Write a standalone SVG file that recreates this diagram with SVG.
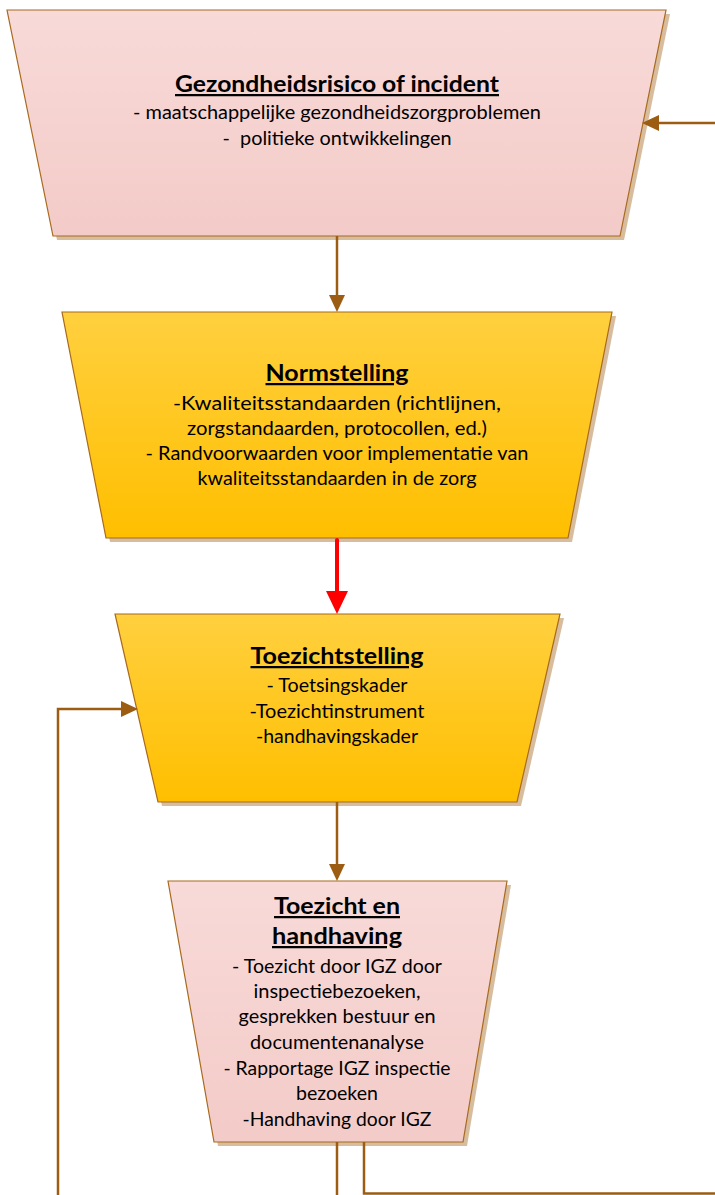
<svg xmlns="http://www.w3.org/2000/svg" width="715" height="1195" viewBox="0 0 715 1195">
  <defs>
    <linearGradient id="pink" x1="0" y1="0" x2="0" y2="1">
      <stop offset="0" stop-color="#F8DAD8"/>
      <stop offset="1" stop-color="#F3CBC8"/>
    </linearGradient>
    <linearGradient id="gold" x1="0" y1="0" x2="0" y2="1">
      <stop offset="0" stop-color="#FFD03F"/>
      <stop offset="1" stop-color="#FFBF00"/>
    </linearGradient>
    <marker id="ah" markerUnits="userSpaceOnUse" markerWidth="17" markerHeight="16" refX="8" refY="8" orient="auto">
      <path d="M0,0 L17,8 L0,16 Z" fill="#9C5C12"/>
    </marker>
    <marker id="ahRed" markerUnits="userSpaceOnUse" markerWidth="23" markerHeight="22" refX="10" refY="11" orient="auto">
      <path d="M0,0 L23,11 L0,22 Z" fill="#FF0000"/>
    </marker>
    <style>
      .shadow { fill: #C9A57C; opacity: 0.75; }
      .shape { stroke: #A86A1E; stroke-width: 1.2; }
      .title { font-family: Lato, "Liberation Sans", sans-serif; font-weight: bold; font-size: 22.5px; text-anchor: middle; fill: #000; text-decoration: underline; }
      .body { font-family: Lato, "Liberation Sans", sans-serif; font-size: 19.5px; text-anchor: middle; fill: #000; }
      .conn { fill: none; stroke: #9C5C12; stroke-width: 2.5; }
      .red { fill: none; stroke: #FF0000; stroke-width: 4; stroke-linecap: round; }
    </style>
  </defs>

  <g id="node-gezondheidsrisico">
    <polygon class="shadow" points="11,14 670,14 624,240 57,240"/>
    <polygon class="shape" fill="url(#pink)" points="7,10 666,10 620,236 53,236"/>
    <text class="title" x="337" y="92" textLength="324" lengthAdjust="spacingAndGlyphs">Gezondheidsrisico of incident</text>
    <text class="body" x="337" y="119" textLength="408" lengthAdjust="spacingAndGlyphs">- maatschappelijke gezondheidszorgproblemen</text>
    <text class="body" x="337" y="145" textLength="229" lengthAdjust="spacingAndGlyphs" xml:space="preserve">-  politieke ontwikkelingen</text>
  </g>

  <g id="node-normstelling">
    <polygon class="shadow" points="66,316 616,316 572,542 110,542"/>
    <polygon class="shape" fill="url(#gold)" points="62,312 612,312 568,538 106,538"/>
    <text class="title" x="337" y="381" textLength="143" lengthAdjust="spacingAndGlyphs">Normstelling</text>
    <text class="body" x="337" y="410" textLength="328" lengthAdjust="spacingAndGlyphs">-Kwaliteitsstandaarden (richtlijnen,</text>
    <text class="body" x="337" y="435" textLength="300" lengthAdjust="spacingAndGlyphs">zorgstandaarden, protocollen, ed.)</text>
    <text class="body" x="337" y="460" textLength="383" lengthAdjust="spacingAndGlyphs">- Randvoorwaarden voor implementatie van</text>
    <text class="body" x="337" y="485" textLength="279" lengthAdjust="spacingAndGlyphs">kwaliteitsstandaarden in de zorg</text>
  </g>

  <g id="node-toezichtstelling">
    <polygon class="shadow" points="119,618 564,618 521,806 162,806"/>
    <polygon class="shape" fill="url(#gold)" points="115,614 560,614 517,802 158,802"/>
    <text class="title" x="337" y="664" textLength="173" lengthAdjust="spacingAndGlyphs">Toezichtstelling</text>
    <text class="body" x="337" y="692" textLength="141" lengthAdjust="spacingAndGlyphs">- Toetsingskader</text>
    <text class="body" x="337" y="718" textLength="175" lengthAdjust="spacingAndGlyphs">-Toezichtinstrument</text>
    <text class="body" x="337" y="743" textLength="162" lengthAdjust="spacingAndGlyphs">-handhavingskader</text>
  </g>

  <g id="node-toezicht-handhaving">
    <polygon class="shadow" points="172,885 511,885 467,1146 218,1146"/>
    <polygon class="shape" fill="url(#pink)" points="168,881 507,881 463,1142 214,1142"/>
    <text class="title" x="337" y="914" textLength="126" lengthAdjust="spacingAndGlyphs">Toezicht en</text>
    <text class="title" x="337" y="944" textLength="130" lengthAdjust="spacingAndGlyphs">handhaving</text>
    <text class="body" x="337" y="973" textLength="210" lengthAdjust="spacingAndGlyphs">- Toezicht door IGZ door</text>
    <text class="body" x="337" y="998" textLength="167" lengthAdjust="spacingAndGlyphs">inspectiebezoeken,</text>
    <text class="body" x="337" y="1023" textLength="197" lengthAdjust="spacingAndGlyphs">gesprekken bestuur en</text>
    <text class="body" x="337" y="1049" textLength="174" lengthAdjust="spacingAndGlyphs">documentenanalyse</text>
    <text class="body" x="337" y="1075" textLength="227" lengthAdjust="spacingAndGlyphs">- Rapportage IGZ inspectie</text>
    <text class="body" x="337" y="1100" textLength="82" lengthAdjust="spacingAndGlyphs">bezoeken</text>
    <text class="body" x="337" y="1126" textLength="189" lengthAdjust="spacingAndGlyphs">-Handhaving door IGZ</text>
  </g>

  <g id="connectors">
    <line class="conn" x1="715" y1="123" x2="651" y2="123" marker-end="url(#ah)"/>
    <line class="conn" x1="337" y1="236" x2="337" y2="303" marker-end="url(#ah)"/>
    <line class="red" x1="337" y1="540" x2="337" y2="601" marker-end="url(#ahRed)"/>
    <polyline class="conn" points="58,1195 58,709 129,709" marker-end="url(#ah)"/>
    <line class="conn" x1="337" y1="802" x2="337" y2="872" marker-end="url(#ah)"/>
    <line class="conn" x1="337" y1="1142" x2="337" y2="1195"/>
    <polyline class="conn" points="364,1142 364,1193.5 715,1193.5"/>
  </g>
</svg>
